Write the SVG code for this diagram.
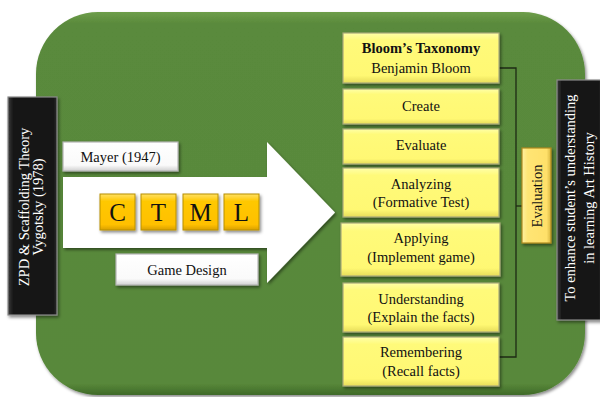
<svg xmlns="http://www.w3.org/2000/svg" width="600" height="397" viewBox="0 0 600 397">
<defs>
  <filter id="sh" x="-10%" y="-10%" width="130%" height="130%">
    <feDropShadow dx="1.5" dy="2" stdDeviation="1.5" flood-color="#000" flood-opacity="0.45"/>
  </filter>
  <linearGradient id="gYel" x1="0" y1="0" x2="0" y2="1">
    <stop offset="0" stop-color="#FFFFA8"/>
    <stop offset="0.15" stop-color="#FFFA7A"/>
    <stop offset="0.85" stop-color="#FFF873"/>
    <stop offset="1" stop-color="#E6DC5A"/>
  </linearGradient>
  <linearGradient id="gGold" x1="0" y1="0" x2="0" y2="1">
    <stop offset="0" stop-color="#FFE066"/>
    <stop offset="0.2" stop-color="#FFC800"/>
    <stop offset="0.85" stop-color="#FFC000"/>
    <stop offset="1" stop-color="#D9A000"/>
  </linearGradient>
  <linearGradient id="gEval" x1="0" y1="0" x2="1" y2="0">
    <stop offset="0" stop-color="#FFF0A0"/>
    <stop offset="0.2" stop-color="#FFE574"/>
    <stop offset="0.85" stop-color="#FFE06A"/>
    <stop offset="1" stop-color="#D8B640"/>
  </linearGradient>
  <linearGradient id="gWhite" x1="0" y1="0" x2="0" y2="1">
    <stop offset="0" stop-color="#FFFFFF"/>
    <stop offset="0.8" stop-color="#FAFAFA"/>
    <stop offset="1" stop-color="#D0D0D0"/>
  </linearGradient>
  <linearGradient id="gBlack" x1="0" y1="0" x2="1" y2="0">
    <stop offset="0" stop-color="#3A3A3A"/>
    <stop offset="0.12" stop-color="#121212"/>
    <stop offset="0.9" stop-color="#121212"/>
    <stop offset="1" stop-color="#2A2A2A"/>
  </linearGradient>
  <linearGradient id="gGreen" x1="0" y1="0" x2="0" y2="1">
    <stop offset="0" stop-color="#6E9E4A"/>
    <stop offset="0.03" stop-color="#5A8A3C"/>
    <stop offset="0.97" stop-color="#58883A"/>
    <stop offset="1" stop-color="#3F6A28"/>
  </linearGradient>
</defs>
<style>
  text { font-family: "Liberation Serif", "Times New Roman", serif; fill: #111; }
  .lbl { font-size: 14.5px; text-anchor: middle; }
  .big { font-size: 25px; text-anchor: middle; }
  .wt { fill: #FFFFFF; font-size: 14.5px; text-anchor: middle; }
  .yel { fill: url(#gYel); stroke: #A8A87A; stroke-width: 1.2; filter: url(#sh); }
  .gold { fill: url(#gGold); stroke: #B89000; stroke-width: 1; filter: url(#sh); }
  .wbox { fill: url(#gWhite); stroke: #B5B5B5; stroke-width: 1.2; filter: url(#sh); }
  .blk { fill: url(#gBlack); stroke: #8A8A8A; stroke-width: 1.2; filter: url(#sh); }
  .conn { fill: none; stroke: #1E2A14; stroke-width: 1.3; }
</style>

<g id="background">
  <rect x="36" y="12" width="549" height="383" rx="62" ry="62" fill="url(#gGreen)" filter="url(#sh)"/>
</g>

<g id="arrow">
  <path d="M63,177 L267,177 L267,142 L335,212.5 L267,283 L267,248 L63,248 Z" fill="#FFFFFF" filter="url(#sh)"/>
</g>

<g id="left-theory">
  <rect class="blk" x="8" y="97" width="49" height="218"/>
  <text class="wt" transform="translate(29,207) rotate(-90)">ZPD &amp; Scaffolding Theory</text>
  <text class="wt" transform="translate(43,207) rotate(-90)">Vygotsky (1978)</text>
</g>

<g id="mayer">
  <rect class="wbox" x="63" y="142" width="115" height="29"/>
  <text class="lbl" x="120.5" y="162">Mayer (1947)</text>
</g>

<g id="ctml-c">
  <rect class="gold" x="100" y="194" width="35" height="36"/>
  <text class="big" x="117.5" y="221">C</text>
</g>
<g id="ctml-t">
  <rect class="gold" x="141" y="194" width="35" height="36"/>
  <text class="big" x="158.5" y="221">T</text>
</g>
<g id="ctml-m">
  <rect class="gold" x="183" y="194" width="35" height="36"/>
  <text class="big" x="200.5" y="221">M</text>
</g>
<g id="ctml-l">
  <rect class="gold" x="224" y="194" width="35" height="36"/>
  <text class="big" x="241.5" y="221">L</text>
</g>

<g id="game-design">
  <rect class="wbox" x="116" y="254" width="142" height="31"/>
  <text class="lbl" x="187" y="275">Game Design</text>
</g>

<g id="connectors">
  <polyline class="conn" points="498,68 516,68 516,357 499,357"/>
  <line class="conn" x1="516" y1="206" x2="522" y2="206"/>
</g>

<g id="bloom">
  <rect class="yel" x="343" y="33" width="156" height="50"/>
  <text class="lbl" x="421" y="53" font-weight="bold">Bloom’s Taxonomy</text>
  <text class="lbl" x="421" y="73">Benjamin Bloom</text>
</g>
<g id="create">
  <rect class="yel" x="343" y="89" width="156" height="35"/>
  <text class="lbl" x="421" y="111">Create</text>
</g>
<g id="evaluate">
  <rect class="yel" x="343" y="129" width="156" height="35"/>
  <text class="lbl" x="421" y="150">Evaluate</text>
</g>
<g id="analyzing">
  <rect class="yel" x="343" y="168" width="156" height="49"/>
  <text class="lbl" x="421" y="189">Analyzing</text>
  <text class="lbl" x="421" y="207">(Formative Test)</text>
</g>
<g id="applying">
  <rect class="yel" x="341" y="223" width="159" height="53"/>
  <text class="lbl" x="421" y="243">Applying</text>
  <text class="lbl" x="421" y="262">(Implement game)</text>
</g>
<g id="understanding">
  <rect class="yel" x="343" y="283" width="156" height="49"/>
  <text class="lbl" x="421" y="304">Understanding</text>
  <text class="lbl" x="421" y="322">(Explain the facts)</text>
</g>
<g id="remembering">
  <rect class="yel" x="343" y="337" width="156" height="49"/>
  <text class="lbl" x="421" y="357">Remembering</text>
  <text class="lbl" x="421" y="376">(Recall facts)</text>
</g>

<g id="evaluation">
  <rect x="522" y="148" width="29" height="95" fill="url(#gEval)" stroke="#B08A20" stroke-width="1.2" filter="url(#sh)"/>
  <text class="lbl" transform="translate(541.5,196) rotate(-90)">Evaluation</text>
</g>

<g id="goal">
  <rect class="blk" x="557" y="80" width="45" height="240"/>
  <text class="wt" transform="translate(575,198) rotate(-90)">To enhance student’s understanding</text>
  <text class="wt" transform="translate(594,198) rotate(-90)">in learning Art History</text>
</g>
</svg>
